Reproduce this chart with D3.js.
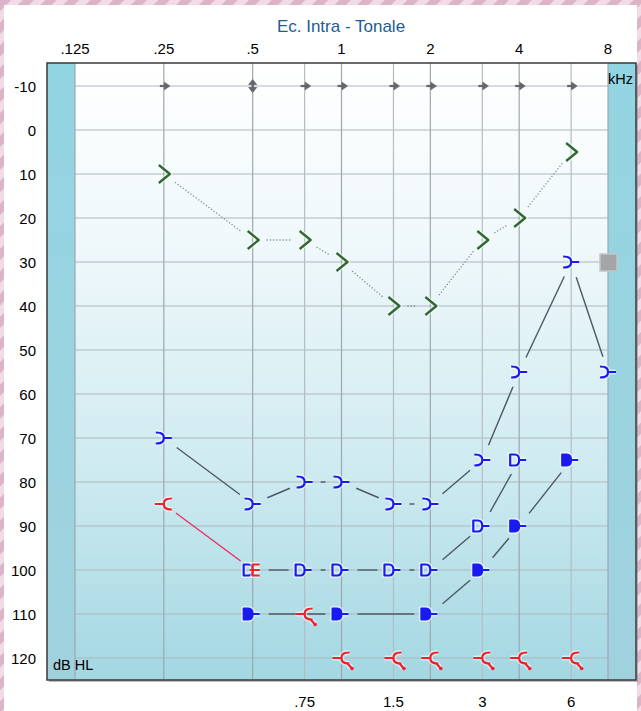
<!DOCTYPE html>
<html><head><meta charset="utf-8">
<script src="https://cdn.jsdelivr.net/npm/d3@7"></script>
<style>html,body{margin:0;padding:0;background:#fff;}svg{display:block;}</style>
</head><body>
<script>
// ---- data ----
const titleText = "Ec. Intra - Tonale";
const topFreqs = [0.125, 0.25, 0.5, 1, 2, 4, 8];
const topLabels = [".125", ".25", ".5", "1", "2", "4", "8"];
const bottomFreqs = [0.75, 1.5, 3, 6];
const bottomLabels = [".75", "1.5", "3", "6"];
const dbTicks = [-10, 0, 10, 20, 30, 40, 50, 60, 70, 80, 90, 100, 110, 120];

const greenFreq = [0.25, 0.5, 0.75, 1, 1.5, 2, 3, 4, 6];
const greenDb   = [10, 25, 25, 30, 40, 40, 25, 20, 5];

const blueAirFreq = [0.25, 0.5, 0.75, 1, 1.5, 2, 3, 4, 6, 8];
const blueAirDb   = [70, 85, 80, 80, 85, 85, 75, 55, 30, 55];

const blueOpenFreq = [0.5, 0.75, 1, 1.5, 2, 3, 4];
const blueOpenDb   = [100, 100, 100, 100, 100, 90, 75];

const blueFilledFreq = [0.5, 1, 2, 3, 4, 6];
const blueFilledDb   = [110, 110, 110, 100, 90, 75];

const redAirFreq = [0.25];
const redAirDb   = [85];
const redMaskFreq = [0.5];
const redMaskDb   = [100];
const redLineFreq = [0.25, 0.5];
const redLineDb   = [85, 100];

const redNoRespFreq = [0.75, 1, 1.5, 2, 3, 4, 6];
const redNoRespDb   = [110, 120, 120, 120, 120, 120, 120];

const arrowFreq = [0.25, 0.75, 1, 1.5, 2, 3, 4, 6];
const arrowDb = -10;
const dblArrowFreq = [0.5];

const squareFreq = [8];
const squareDb = [30];

// ---- layout ----
const W = 641, H = 711;
const frame = {l: 47, r: 636, t: 63, b: 680};
const ext = 28 / 88.83; // octave extension beyond .125 and 8
const x = d3.scaleLog().base(2)
  .domain([0.125 * Math.pow(2, -ext), 8 * Math.pow(2, ext)])
  .range([frame.l, frame.r]);
const y = d3.scaleLinear().domain([-15, 125]).range([frame.t + 1, frame.b]);

const svg = d3.select("body").append("svg").attr("width", W).attr("height", H)
  .style("font-family", "'Liberation Sans', Arial, sans-serif");

const defs = svg.append("defs");
const pat = defs.append("pattern").attr("id", "stripes").attr("patternUnits", "userSpaceOnUse")
  .attr("width", 16).attr("height", 16).attr("patternTransform", "rotate(45)");
pat.append("rect").attr("width", 16).attr("height", 16).attr("fill", "#f2dbe6");
pat.append("rect").attr("width", 8).attr("height", 16).attr("fill", "#dcb4c8");

const bg = defs.append("linearGradient").attr("id", "bg").attr("x1", 0).attr("y1", 0).attr("x2", 0).attr("y2", 1);
[[0, "#ffffff"], [0.3, "#eff8fa"], [0.65, "#cfebf1"], [1, "#a3d7e2"]].forEach(s =>
  bg.append("stop").attr("offset", s[0]).attr("stop-color", s[1]));
const band = defs.append("linearGradient").attr("id", "band").attr("x1", 0).attr("y1", 0).attr("x2", 0).attr("y2", 1);
[[0, "#92d5e2"], [0.5, "#9ad3e0"], [1, "#a0d2de"]].forEach(s =>
  band.append("stop").attr("offset", s[0]).attr("stop-color", s[1]));

// page background
svg.append("rect").attr("width", W).attr("height", H).attr("fill", "url(#stripes)");
svg.append("rect").attr("x", 4).attr("y", 5).attr("width", 633).attr("height", H - 5).attr("fill", "#ffffff");

// title
svg.append("text").attr("x", 341).attr("y", 32).attr("text-anchor", "middle")
  .attr("font-size", 17).attr("fill", "#1d5c98").text(titleText);

// plot background
svg.append("rect").attr("x", frame.l + 2).attr("y", frame.t + 2).attr("width", frame.r - frame.l).attr("height", frame.b - frame.t)
  .attr("fill", "#8a8f94").attr("opacity", 0.6);
svg.append("rect").attr("x", frame.l).attr("y", frame.t).attr("width", frame.r - frame.l).attr("height", frame.b - frame.t)
  .attr("fill", "url(#bg)");
svg.append("rect").attr("x", frame.l).attr("y", frame.t).attr("width", x(0.125) - frame.l).attr("height", frame.b - frame.t)
  .attr("fill", "url(#band)");
svg.append("rect").attr("x", x(8)).attr("y", frame.t).attr("width", frame.r - x(8)).attr("height", frame.b - frame.t)
  .attr("fill", "url(#band)");

// grid
const grid = svg.append("g");
grid.selectAll("line.h").data(dbTicks).join("line")
  .attr("x1", x(0.125)).attr("x2", x(8)).attr("y1", d => y(d)).attr("y2", d => y(d))
  .attr("stroke", "#aeb8be").attr("stroke-width", 1.1);
grid.selectAll("line.v").data(topFreqs.concat(bottomFreqs)).join("line")
  .attr("x1", d => x(d)).attr("x2", d => x(d)).attr("y1", frame.t).attr("y2", frame.b)
  .attr("stroke", d => topFreqs.includes(d) ? "#9ea7af" : "#b4bdc3").attr("stroke-width", 1.2);

// frame
svg.append("rect").attr("x", frame.l).attr("y", frame.t).attr("width", frame.r - frame.l).attr("height", frame.b - frame.t)
  .attr("fill", "none").attr("stroke", "#3a3a3a").attr("stroke-width", 1.5);

// axes labels
const lab = svg.append("g").attr("font-size", 15).attr("fill", "#000");
lab.selectAll("text.t").data(topFreqs).join("text")
  .attr("x", d => x(d)).attr("y", 54).attr("text-anchor", "middle").text((d, i) => topLabels[i]);
lab.selectAll("text.b").data(bottomFreqs).join("text")
  .attr("x", d => x(d)).attr("y", 707).attr("text-anchor", "middle").text((d, i) => bottomLabels[i]);
lab.selectAll("text.y").data(dbTicks).join("text")
  .attr("x", 36).attr("y", d => y(d) + 6).attr("text-anchor", "end").text(d => d);
svg.append("text").attr("x", 633).attr("y", 84).attr("text-anchor", "end").attr("font-size", 14.5).attr("fill", "#000").text("kHz");
svg.append("text").attr("x", 53).attr("y", 670).attr("font-size", 14.5).attr("fill", "#000").text("dB HL");

// connecting lines with gaps near symbols
function drawLinks(fs, ds, color, dash, gap) {
  const pts = fs.map((f, i) => [x(f), y(ds[i])]);
  const segs = [];
  for (let i = 0; i < pts.length - 1; i++) {
    const [x1, y1] = pts[i], [x2, y2] = pts[i + 1];
    const L = Math.hypot(x2 - x1, y2 - y1);
    if (L <= 2 * gap) continue;
    const ux = (x2 - x1) / L, uy = (y2 - y1) / L;
    segs.push([x1 + ux * gap, y1 + uy * gap, x2 - ux * gap, y2 - uy * gap]);
  }
  svg.append("g").selectAll("line").data(segs).join("line")
    .attr("x1", d => d[0]).attr("y1", d => d[1]).attr("x2", d => d[2]).attr("y2", d => d[3])
    .attr("stroke", color).attr("stroke-width", dash ? 1.3 : 1.4)
    .attr("stroke-dasharray", dash || null);
}
drawLinks(greenFreq, greenDb, "#7e8c8c", "1.2,2", 14);
drawLinks(blueAirFreq, blueAirDb, "#4d5862", null, 16);
drawLinks(blueOpenFreq, blueOpenDb, "#4d5862", null, 16);
drawLinks(blueFilledFreq, blueFilledDb, "#4d5862", null, 16);
drawLinks(redLineFreq, redLineDb, "#e8306a", null, 15);

// symbols
function drawSym(fs, ds, path, stroke, fill, sw) {
  const g = svg.append("g");
  g.selectAll("path.halo").data(fs).join("path")
    .attr("transform", (d, i) => `translate(${x(d)},${y(ds[i])})`)
    .attr("d", path).attr("fill", "none").attr("stroke", "#ffffff").attr("stroke-opacity", 0.55)
    .attr("stroke-width", sw + 3).attr("stroke-linejoin", "round");
  g.selectAll("path.sym").data(fs).join("path")
    .attr("transform", (d, i) => `translate(${x(d)},${y(ds[i])})`)
    .attr("d", path).attr("fill", fill).attr("stroke", stroke).attr("stroke-width", sw)
    .attr("stroke-linejoin", "round");
}
const chevron = "M-5,-9 L6,0 L-5,9";
const forkRight = "M-8,-5.5 C-1,-5.5 0,-3 0,0 C0,3 -1,5.5 -8,5.5 M0,0 L8,0";
const forkLeft = "M8,-5.5 C1,-5.5 0,-3 0,0 C0,3 1,5.5 8,5.5 M0,0 L-9,0";
const forkLeftNR = forkLeft + " M6,5.5 L10,10";
const dShape = "M0,0 C0,-4 -2,-5.5 -4.5,-5.5 L-9,-5.5 L-9,5.5 L-4.5,5.5 C-2,5.5 0,4 0,0 Z M0,0 L7,0";
const eShape = "M7,-5.5 L0,-5.5 L0,5.5 L7,5.5 M-3,0 L7,0";

drawSym(greenFreq, greenDb, chevron, "#2f6a33", "none", 2.4);
drawSym(blueAirFreq, blueAirDb, forkRight, "#1a1af2", "none", 2.2);
drawSym(blueOpenFreq, blueOpenDb, dShape, "#1a1af2", "none", 2.2);
drawSym(blueFilledFreq, blueFilledDb, dShape, "#1a1af2", "#1a1af2", 2);
drawSym(redAirFreq, redAirDb, forkLeft, "#f0202a", "none", 2.2);
drawSym(redMaskFreq, redMaskDb, eShape, "#f0202a", "none", 2.2);
drawSym(redNoRespFreq, redNoRespDb, forkLeftNR, "#f0202a", "none", 2.2);
// arrow-tip dots for no-response
svg.append("g").selectAll("circle").data(redNoRespFreq).join("circle")
  .attr("cx", d => x(d) + 10.5).attr("cy", (d, i) => y(redNoRespDb[i]) + 10.5).attr("r", 1.8).attr("fill", "#f0202a");

// gray arrows at -10
const ag = svg.append("g").attr("fill", "#63676b").attr("stroke", "#63676b");
ag.selectAll("g.a").data(arrowFreq).join("g")
  .attr("transform", d => `translate(${x(d)},${y(arrowDb)})`)
  .each(function () {
    const s = d3.select(this);
    s.append("line").attr("x1", -4).attr("x2", 1).attr("y1", 0).attr("y2", 0).attr("stroke-width", 2.2);
    s.append("path").attr("d", "M0.5,-3.8 L6,0 L0.5,3.8 Z").attr("stroke-width", 0.8);
  });
ag.selectAll("g.d").data(dblArrowFreq).join("g")
  .attr("transform", d => `translate(${x(d)},${y(arrowDb)})`)
  .each(function () {
    const s = d3.select(this);
    s.append("line").attr("x1", 0).attr("x2", 0).attr("y1", -3).attr("y2", 3).attr("stroke-width", 2.4);
    s.append("path").attr("d", "M-4,-1.5 L0,-6.5 L4,-1.5 Z M-4,1.5 L0,6.5 L4,1.5 Z").attr("stroke-width", 0.8);
  });

// gray square
svg.append("g").selectAll("rect").data(squareFreq).join("rect")
  .attr("x", d => x(d) - 8).attr("y", (d, i) => y(squareDb[i]) - 8).attr("width", 17).attr("height", 17)
  .attr("fill", "#a3a5a7").attr("stroke", "#c4c6c8").attr("stroke-width", 1.5);
</script>
</body></html>
